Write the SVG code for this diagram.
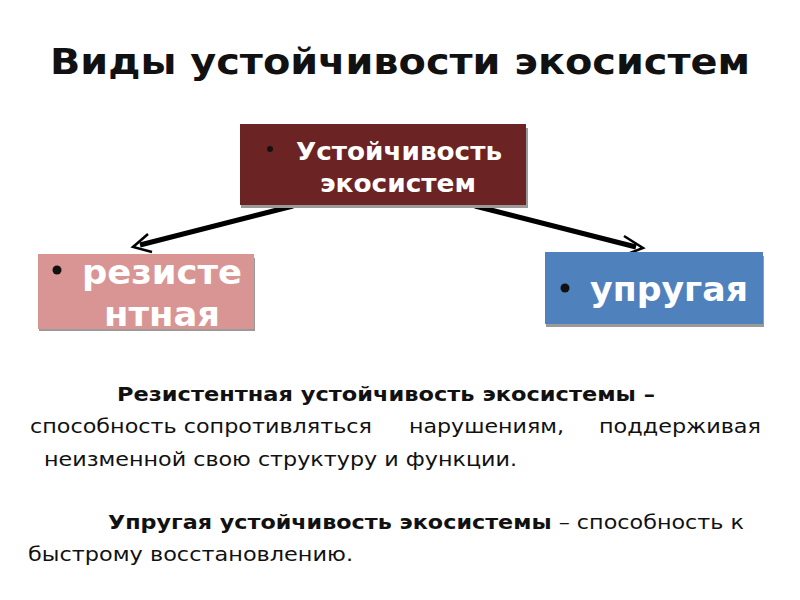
<svg xmlns="http://www.w3.org/2000/svg" width="800" height="600" viewBox="0 0 800 600">
<style>
.title{font-family:"DejaVu Sans","Liberation Sans",sans-serif;font-weight:bold;font-size:35px;fill:#111}
.box{font-family:"DejaVu Sans","Liberation Sans",sans-serif;font-weight:bold;fill:#fff}
.bul{fill:#111}
.body{font-family:"DejaVu Sans","Liberation Sans",sans-serif;font-size:19px;fill:#111}
.b{font-weight:bold}
.conn{stroke:#000;stroke-width:5;fill:none}
.head{stroke:#000;stroke-width:2.5;fill:none}
.shadow{fill:#9a9a9a}
</style>
<rect width="800" height="600" fill="#fff"/>
<text class="title" x="400" y="74" text-anchor="middle" textLength="700" lengthAdjust="spacingAndGlyphs">Виды устойчивости экосистем</text>

<g id="connectors">
  <line class="conn" x1="293" y1="206" x2="140" y2="245"/>
  <polyline class="head" points="148,234 133,247 152,252"/>
  <line class="conn" x1="475" y1="206" x2="636" y2="247"/>
  <polyline class="head" points="624,236 643,248 625,255"/>
</g>

<g id="node-top">
  <rect class="shadow" x="241" y="128" width="287" height="80"/>
  <rect x="240" y="124" width="286" height="81" fill="#6b2324"/>
  <circle class="bul" cx="270" cy="149" r="3"/>
  <text class="box" x="296" y="160" font-size="24" textLength="206" lengthAdjust="spacingAndGlyphs">Устойчивость</text>
  <text class="box" x="320" y="192" font-size="24" textLength="156" lengthAdjust="spacingAndGlyphs">экосистем</text>
</g>

<g id="node-left">
  <rect class="shadow" x="39" y="258" width="216" height="73"/>
  <rect x="38" y="254" width="216" height="75" fill="#d99594"/>
  <circle class="bul" cx="57" cy="270" r="4.5"/>
  <text class="box" x="82" y="284" font-size="34" textLength="160" lengthAdjust="spacingAndGlyphs">резисте</text>
  <text class="box" x="104" y="326" font-size="34" textLength="116" lengthAdjust="spacingAndGlyphs">нтная</text>
</g>

<g id="node-right">
  <rect class="shadow" x="546" y="256" width="218" height="71"/>
  <rect x="545" y="252" width="218" height="72" fill="#4f81bd"/>
  <circle class="bul" cx="565" cy="288" r="4.5"/>
  <text class="box" x="590" y="301" font-size="33" textLength="158" lengthAdjust="spacingAndGlyphs">упругая</text>
</g>

<g id="text">
  <text class="body b" x="117" y="401" textLength="538" lengthAdjust="spacingAndGlyphs">Резистентная устойчивость экосистемы –</text>
  <text class="body" x="30" y="433" textLength="342" lengthAdjust="spacingAndGlyphs">способность сопротивляться</text>
  <text class="body" x="409" y="433" textLength="155" lengthAdjust="spacingAndGlyphs">нарушениям,</text>
  <text class="body" x="599" y="433" textLength="162" lengthAdjust="spacingAndGlyphs">поддерживая</text>
  <text class="body" x="44" y="466" textLength="473" lengthAdjust="spacingAndGlyphs">неизменной свою структуру и функции.</text>
  <text class="body" x="108" y="529" textLength="636" lengthAdjust="spacingAndGlyphs"><tspan class="b">Упругая устойчивость экосистемы</tspan> – способность к</text>
  <text class="body" x="28" y="561" textLength="325" lengthAdjust="spacingAndGlyphs">быстрому восстановлению.</text>
</g>
</svg>
